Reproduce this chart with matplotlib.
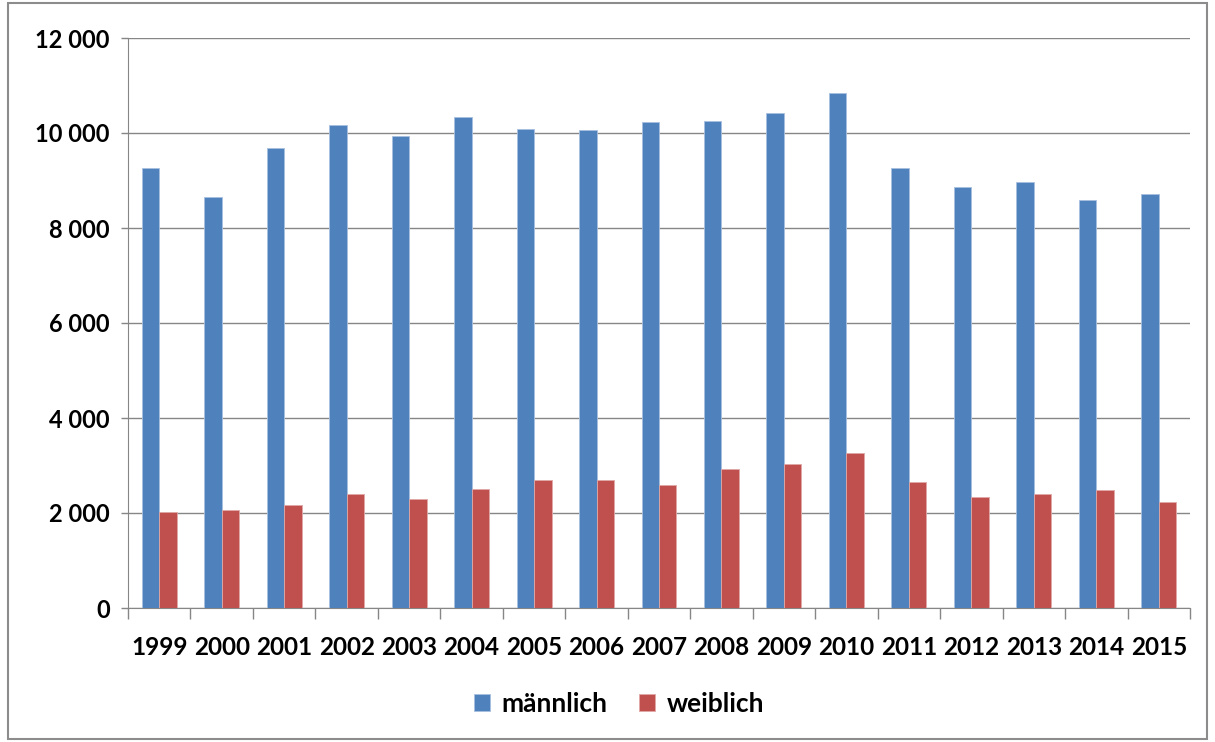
import numpy as np
import matplotlib
matplotlib.use("Agg")
from matplotlib import pyplot as plt
from matplotlib.ticker import FuncFormatter

years = [str(y) for y in range(1999, 2016)]
maennlich = [9270, 8650, 9680, 10170, 9930, 10330, 10080, 10060, 10230,
             10250, 10420, 10840, 9270, 8860, 8960, 8590, 8710]
weiblich = [2030, 2060, 2170, 2390, 2300, 2510, 2700, 2700, 2590,
            2920, 3030, 3270, 2650, 2330, 2410, 2490, 2240]

BLUE = "#4F81BD"
RED = "#C0504D"
GRID = "#868686"

plt.rcParams["font.family"] = ["Lato", "DejaVu Sans"]
plt.rcParams["font.weight"] = "bold"

fig = plt.figure(figsize=(12.15, 7.42), dpi=100)
ax = fig.add_axes([128 / 1215, 1 - 608 / 742, (1190 - 128) / 1215, (608 - 38) / 742])

x = np.arange(len(years))
w = 0.28
ax.bar(x - w / 2, maennlich, w, color=BLUE, edgecolor="#A8C0E0", linewidth=0.6,
       label="männlich", zorder=3)
ax.bar(x + w / 2, weiblich, w, color=RED, edgecolor="#E0A8A6", linewidth=0.6,
       label="weiblich", zorder=3)

ax.set_xlim(-0.5, len(years) - 0.5)
ax.set_ylim(0, 12000)
ax.set_yticks(range(0, 12001, 2000))
ax.yaxis.set_major_formatter(FuncFormatter(lambda v, p: f"{int(v):,}".replace(",", " ")))
ax.yaxis.grid(True, color=GRID, linewidth=1.0, zorder=0)

ax.set_xticks(x)
ax.set_xticklabels(years)
ax.set_xticks(np.arange(-0.5, len(years)), minor=True)
ax.tick_params(axis="x", which="major", length=0, pad=20, labelsize=17.5)
ax.tick_params(axis="x", which="minor", length=8, color=GRID, width=1.0)
ax.tick_params(axis="y", length=5, color=GRID, width=1.0, pad=8, labelsize=17)

for side in ["top", "right"]:
    ax.spines[side].set_visible(False)
ax.spines["left"].set_color(GRID)
ax.spines["bottom"].set_color(GRID)

leg = fig.legend(loc="center", bbox_to_anchor=(619 / 1215, 1 - 704 / 742), ncol=2,
                 frameon=False, fontsize=19, handlelength=0.6, handleheight=0.6,
                 handletextpad=0.45, columnspacing=1.2)

border = plt.Rectangle((8 / 1215, 3 / 742), 1199 / 1215, 736 / 742, transform=fig.transFigure,
                       fill=False, edgecolor="#8C8C8C", linewidth=1.5)
fig.patches.append(border)

fig.savefig("out.png", dpi=100)
